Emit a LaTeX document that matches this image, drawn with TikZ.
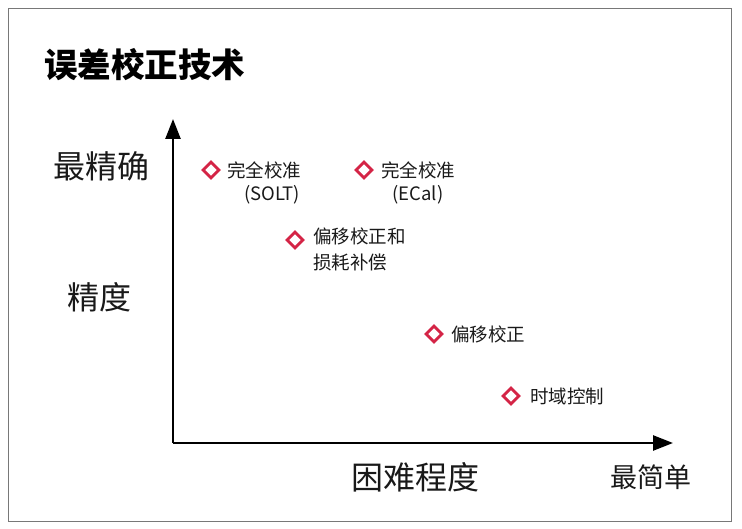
\documentclass[tikz,border=0pt]{standalone}
\usepackage{fontspec}
\setmainfont{Noto Sans CJK SC}
\usetikzlibrary{arrows.meta,shapes.geometric}
\definecolor{mred}{RGB}{212,36,70}
\definecolor{txt}{RGB}{25,25,25}
\definecolor{framec}{RGB}{120,120,120}
\begin{document}
\begin{tikzpicture}[x=1pt,y=-1pt,
  dia/.style={diamond,draw=mred,line width=2.8pt,minimum width=17pt,minimum height=17pt,inner sep=0pt},
  lbl/.style={anchor=west,inner sep=0pt,text=txt,font=\fontsize{18.5}{23}\selectfont},
  sub/.style={anchor=center,inner sep=0pt,text=txt,font=\fontsize{18.5}{23}\selectfont},
  big/.style={inner sep=0pt,text=txt,font=\fontsize{32}{36}\selectfont},
  axis/.style={line width=2.6pt,-{Triangle[width=15pt,length=20pt]}}]
\useasboundingbox (0,0) rectangle (742,529);
\draw[framec,line width=0.8pt] (8,8) rectangle (731,521);
\node[inner sep=0pt,anchor=west,text=black,font=\fontsize{33.5}{36}\selectfont\bfseries] (title) at (44,65) {误差校正技术};
\coordinate (o) at (173,443);
\coordinate (ytop) at (173,119);
\coordinate (xend) at (673,443);
\draw[axis] (o) -- (ytop);
\draw[axis] (o) -- (xend);
\node[big] (most) at (101,166) {最精确};
\node[big] (acc) at (99,297) {精度};
\node[big] (diff) at (415,477) {困难程度};
\node[inner sep=0pt,text=txt,font=\fontsize{27}{30}\selectfont] (easy) at (651,477) {最简单};
\node[dia] (d1) at (211,170) {};
\node[lbl] (t1) at (227,170) {完全校准};
\node[sub] (s1) at (272,195) {(SOLT)};
\node[dia] (d2) at (364,170) {};
\node[lbl] (t2) at (381,170) {完全校准};
\node[sub] (s2) at (418,195) {(ECal)};
\node[dia] (d3) at (295,240) {};
\node[lbl] (t3) at (313,236) {偏移校正和};
\node[lbl] (t3b) at (313,262) {损耗补偿};
\node[dia] (d4) at (434,334) {};
\node[lbl] (t4) at (451,334) {偏移校正};
\node[dia] (d5) at (511,396) {};
\node[lbl] (t5) at (530,396) {时域控制};
\end{tikzpicture}
\end{document}
